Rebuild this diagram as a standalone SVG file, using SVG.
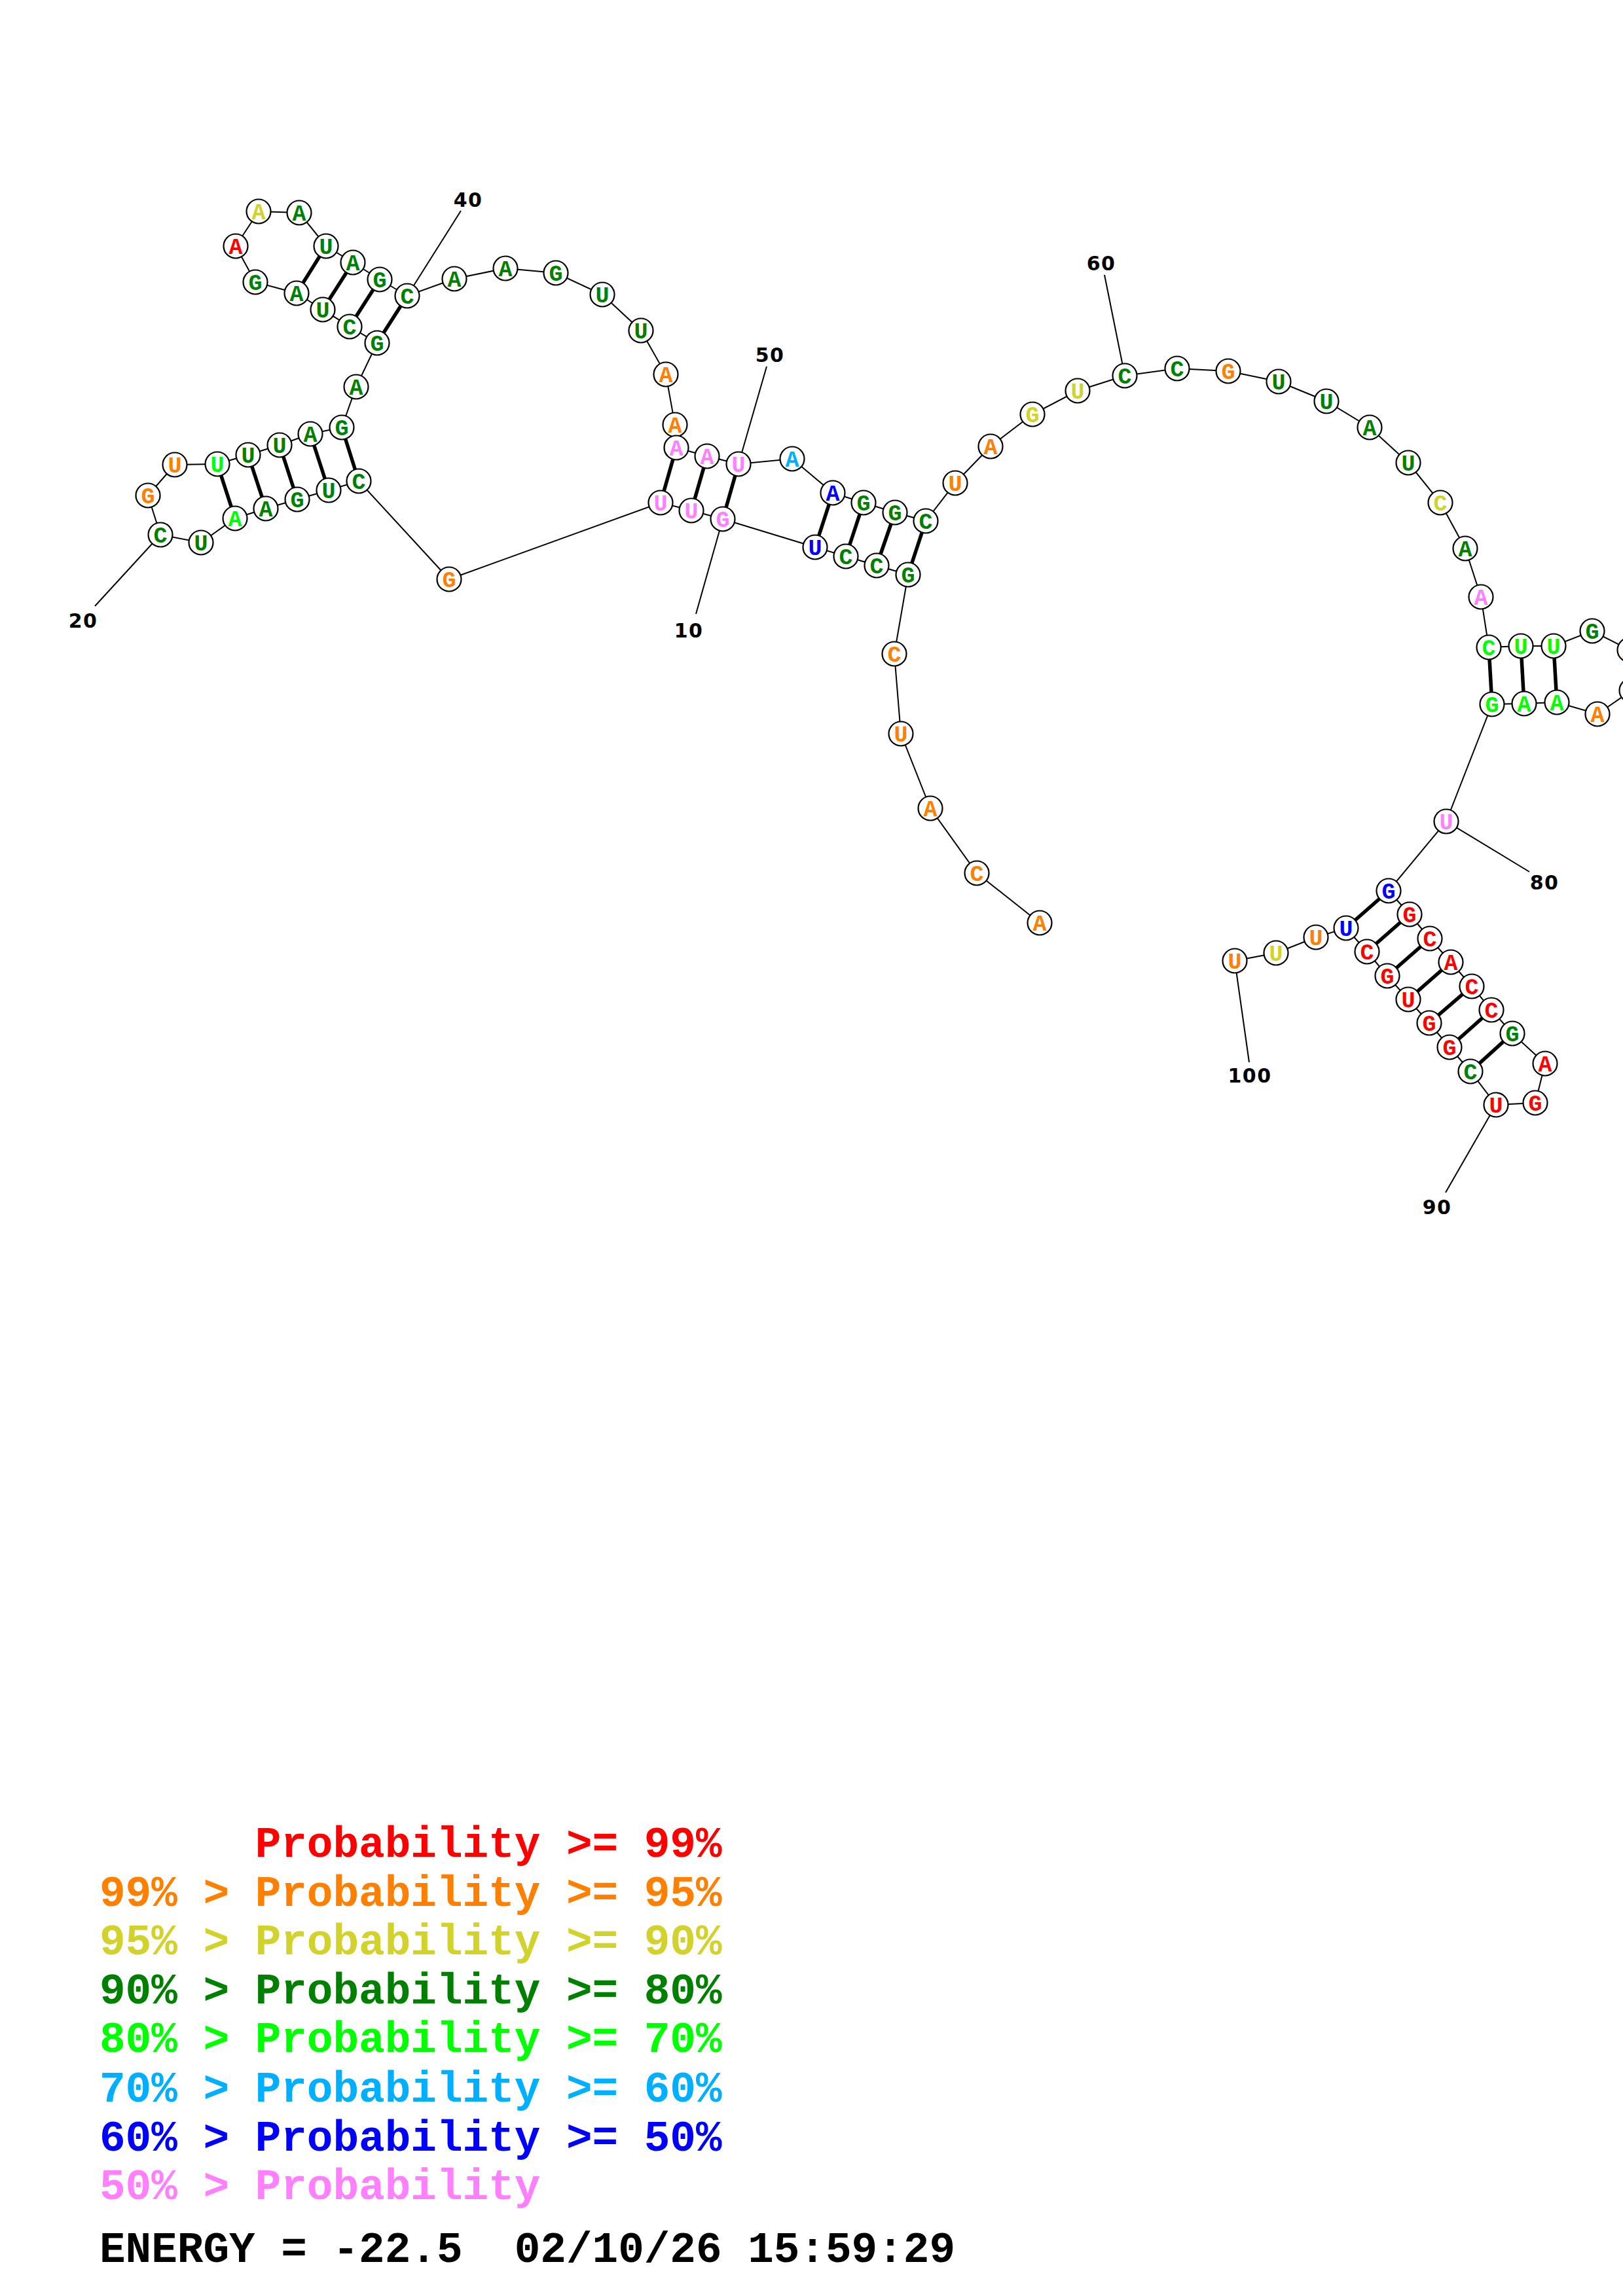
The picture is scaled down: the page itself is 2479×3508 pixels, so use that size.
<svg xmlns="http://www.w3.org/2000/svg" width="2479" height="3508" viewBox="0 0 2479 3508">
<style>
.bb{stroke:#000;stroke-width:2;fill:none}
.pr{stroke:#000;stroke-width:5.5;fill:none}
.ld{stroke:#000;stroke-width:2;fill:none}
circle{fill:#fff;stroke:#000;stroke-width:2.2}
.n text{font-family:"Liberation Mono","Courier New",monospace;font-weight:bold;font-size:35px;text-anchor:middle}
.lab{font-family:"DejaVu Sans","Liberation Sans",sans-serif;font-weight:bold;font-size:30px;text-anchor:middle;letter-spacing:1.5px;fill:#000}
.leg{font-family:"Liberation Mono","Courier New",monospace;font-weight:bold;font-size:66px;white-space:pre}
.r{fill:#FF0000}.o{fill:#FF8000}.y{fill:#D2D22D}.g{fill:#008000}.lg{fill:#00FF00}.lb{fill:#00AFFF}.b{fill:#0000FF}.p{fill:#FF80FF}.k{fill:#000}
</style>
<rect width="2479" height="3508" fill="#fff"/>
<g id="connectors">
<polyline class="bb" points="1588,1410 1492,1334 1421,1235 1376,1121 1366,999 1387,878 1339,864 1292,850 1245,836 1104,793 1056,780 1009,768 686,885 548,735 502,749 454,763 406,777 359,792 307,829 245,817 226,757 267,710 332,709 379,695 427,680 474,663 522,653 544,591 576,524 534,499 493,473 453,448 390,431 360,376 395,323 457,325 498,376 539,401 580,427 622,452 694,426 772,410 849,417 920,450 979,505 1017,572 1031,649 1033,684 1080,697 1128,709 1210,701 1272,753 1319,768 1367,783 1414,796 1459,738 1513,682 1577,633 1646,597 1718,574 1798,563 1876,567 1953,583 2026,613 2092,653 2151,707 2200,768 2238,838 2262,912 2274,989 2323,987 2373,987 2432,964 2489,993 2492,1055 2440,1091 2378,1073 2328,1075 2279,1076 2209,1255 2121,1361 2153,1397 2184,1434 2216,1470 2248,1507 2278,1543 2310,1579 2360,1625 2345,1685 2285,1688 2246,1637 2214,1600 2183,1563 2151,1527 2119,1491 2088,1454 2056,1418 2010,1432 1949,1456 1886,1468"/>
<g id="pairs">
<line class="pr" x1="1387" y1="878" x2="1414" y2="796"/>
<line class="pr" x1="1339" y1="864" x2="1367" y2="783"/>
<line class="pr" x1="1292" y1="850" x2="1319" y2="768"/>
<line class="pr" x1="1245" y1="836" x2="1272" y2="753"/>
<line class="pr" x1="1104" y1="793" x2="1128" y2="709"/>
<line class="pr" x1="1056" y1="780" x2="1080" y2="697"/>
<line class="pr" x1="1009" y1="768" x2="1033" y2="684"/>
<line class="pr" x1="548" y1="735" x2="522" y2="653"/>
<line class="pr" x1="502" y1="749" x2="474" y2="663"/>
<line class="pr" x1="454" y1="763" x2="427" y2="680"/>
<line class="pr" x1="406" y1="777" x2="379" y2="695"/>
<line class="pr" x1="359" y1="792" x2="332" y2="709"/>
<line class="pr" x1="576" y1="524" x2="622" y2="452"/>
<line class="pr" x1="534" y1="499" x2="580" y2="427"/>
<line class="pr" x1="493" y1="473" x2="539" y2="401"/>
<line class="pr" x1="453" y1="448" x2="498" y2="376"/>
<line class="pr" x1="2274" y1="989" x2="2279" y2="1076"/>
<line class="pr" x1="2323" y1="987" x2="2328" y2="1075"/>
<line class="pr" x1="2373" y1="987" x2="2378" y2="1073"/>
<line class="pr" x1="2121" y1="1361" x2="2056" y2="1418"/>
<line class="pr" x1="2153" y1="1397" x2="2088" y2="1454"/>
<line class="pr" x1="2184" y1="1434" x2="2119" y2="1491"/>
<line class="pr" x1="2216" y1="1470" x2="2151" y2="1527"/>
<line class="pr" x1="2248" y1="1507" x2="2183" y2="1563"/>
<line class="pr" x1="2278" y1="1543" x2="2214" y2="1600"/>
<line class="pr" x1="2310" y1="1579" x2="2246" y2="1637"/>
</g>
<g id="leaders">
<line class="ld" x1="1104" y1="793" x2="1063" y2="938"/>
<line class="ld" x1="245" y1="817" x2="145" y2="926"/>
<line class="ld" x1="622" y1="452" x2="704" y2="322"/>
<line class="ld" x1="1128" y1="709" x2="1171" y2="560"/>
<line class="ld" x1="1718" y1="574" x2="1687" y2="420"/>
<line class="ld" x1="2209" y1="1255" x2="2336" y2="1332"/>
<line class="ld" x1="2285" y1="1688" x2="2208" y2="1822"/>
<line class="ld" x1="1886" y1="1468" x2="1908" y2="1623"/>
</g>
</g>
<g class="n">
<g id="n1"><circle cx="1588" cy="1410" r="18.5"/><text x="1588" y="1421.5" class="o">A</text></g>
<g id="n2"><circle cx="1492" cy="1334" r="18.5"/><text x="1492" y="1345.5" class="o">C</text></g>
<g id="n3"><circle cx="1421" cy="1235" r="18.5"/><text x="1421" y="1246.5" class="o">A</text></g>
<g id="n4"><circle cx="1376" cy="1121" r="18.5"/><text x="1376" y="1132.5" class="o">U</text></g>
<g id="n5"><circle cx="1366" cy="999" r="18.5"/><text x="1366" y="1010.5" class="o">C</text></g>
<g id="n6"><circle cx="1387" cy="878" r="18.5"/><text x="1387" y="889.5" class="g">G</text></g>
<g id="n7"><circle cx="1339" cy="864" r="18.5"/><text x="1339" y="875.5" class="g">C</text></g>
<g id="n8"><circle cx="1292" cy="850" r="18.5"/><text x="1292" y="861.5" class="g">C</text></g>
<g id="n9"><circle cx="1245" cy="836" r="18.5"/><text x="1245" y="847.5" class="b">U</text></g>
<g id="n10"><circle cx="1104" cy="793" r="18.5"/><text x="1104" y="804.5" class="p">G</text></g>
<g id="n11"><circle cx="1056" cy="780" r="18.5"/><text x="1056" y="791.5" class="p">U</text></g>
<g id="n12"><circle cx="1009" cy="768" r="18.5"/><text x="1009" y="779.5" class="p">U</text></g>
<g id="n13"><circle cx="686" cy="885" r="18.5"/><text x="686" y="896.5" class="o">G</text></g>
<g id="n14"><circle cx="548" cy="735" r="18.5"/><text x="548" y="746.5" class="g">C</text></g>
<g id="n15"><circle cx="502" cy="749" r="18.5"/><text x="502" y="760.5" class="g">U</text></g>
<g id="n16"><circle cx="454" cy="763" r="18.5"/><text x="454" y="774.5" class="g">G</text></g>
<g id="n17"><circle cx="406" cy="777" r="18.5"/><text x="406" y="788.5" class="g">A</text></g>
<g id="n18"><circle cx="359" cy="792" r="18.5"/><text x="359" y="803.5" class="lg">A</text></g>
<g id="n19"><circle cx="307" cy="829" r="18.5"/><text x="307" y="840.5" class="g">U</text></g>
<g id="n20"><circle cx="245" cy="817" r="18.5"/><text x="245" y="828.5" class="g">C</text></g>
<g id="n21"><circle cx="226" cy="757" r="18.5"/><text x="226" y="768.5" class="o">G</text></g>
<g id="n22"><circle cx="267" cy="710" r="18.5"/><text x="267" y="721.5" class="o">U</text></g>
<g id="n23"><circle cx="332" cy="709" r="18.5"/><text x="332" y="720.5" class="lg">U</text></g>
<g id="n24"><circle cx="379" cy="695" r="18.5"/><text x="379" y="706.5" class="g">U</text></g>
<g id="n25"><circle cx="427" cy="680" r="18.5"/><text x="427" y="691.5" class="g">U</text></g>
<g id="n26"><circle cx="474" cy="663" r="18.5"/><text x="474" y="674.5" class="g">A</text></g>
<g id="n27"><circle cx="522" cy="653" r="18.5"/><text x="522" y="664.5" class="g">G</text></g>
<g id="n28"><circle cx="544" cy="591" r="18.5"/><text x="544" y="602.5" class="g">A</text></g>
<g id="n29"><circle cx="576" cy="524" r="18.5"/><text x="576" y="535.5" class="g">G</text></g>
<g id="n30"><circle cx="534" cy="499" r="18.5"/><text x="534" y="510.5" class="g">C</text></g>
<g id="n31"><circle cx="493" cy="473" r="18.5"/><text x="493" y="484.5" class="g">U</text></g>
<g id="n32"><circle cx="453" cy="448" r="18.5"/><text x="453" y="459.5" class="g">A</text></g>
<g id="n33"><circle cx="390" cy="431" r="18.5"/><text x="390" y="442.5" class="g">G</text></g>
<g id="n34"><circle cx="360" cy="376" r="18.5"/><text x="360" y="387.5" class="r">A</text></g>
<g id="n35"><circle cx="395" cy="323" r="18.5"/><text x="395" y="334.5" class="y">A</text></g>
<g id="n36"><circle cx="457" cy="325" r="18.5"/><text x="457" y="336.5" class="g">A</text></g>
<g id="n37"><circle cx="498" cy="376" r="18.5"/><text x="498" y="387.5" class="g">U</text></g>
<g id="n38"><circle cx="539" cy="401" r="18.5"/><text x="539" y="412.5" class="g">A</text></g>
<g id="n39"><circle cx="580" cy="427" r="18.5"/><text x="580" y="438.5" class="g">G</text></g>
<g id="n40"><circle cx="622" cy="452" r="18.5"/><text x="622" y="463.5" class="g">C</text></g>
<g id="n41"><circle cx="694" cy="426" r="18.5"/><text x="694" y="437.5" class="g">A</text></g>
<g id="n42"><circle cx="772" cy="410" r="18.5"/><text x="772" y="421.5" class="g">A</text></g>
<g id="n43"><circle cx="849" cy="417" r="18.5"/><text x="849" y="428.5" class="g">G</text></g>
<g id="n44"><circle cx="920" cy="450" r="18.5"/><text x="920" y="461.5" class="g">U</text></g>
<g id="n45"><circle cx="979" cy="505" r="18.5"/><text x="979" y="516.5" class="g">U</text></g>
<g id="n46"><circle cx="1017" cy="572" r="18.5"/><text x="1017" y="583.5" class="o">A</text></g>
<g id="n47"><circle cx="1031" cy="649" r="18.5"/><text x="1031" y="660.5" class="o">A</text></g>
<g id="n48"><circle cx="1033" cy="684" r="18.5"/><text x="1033" y="695.5" class="p">A</text></g>
<g id="n49"><circle cx="1080" cy="697" r="18.5"/><text x="1080" y="708.5" class="p">A</text></g>
<g id="n50"><circle cx="1128" cy="709" r="18.5"/><text x="1128" y="720.5" class="p">U</text></g>
<g id="n51"><circle cx="1210" cy="701" r="18.5"/><text x="1210" y="712.5" class="lb">A</text></g>
<g id="n52"><circle cx="1272" cy="753" r="18.5"/><text x="1272" y="764.5" class="b">A</text></g>
<g id="n53"><circle cx="1319" cy="768" r="18.5"/><text x="1319" y="779.5" class="g">G</text></g>
<g id="n54"><circle cx="1367" cy="783" r="18.5"/><text x="1367" y="794.5" class="g">G</text></g>
<g id="n55"><circle cx="1414" cy="796" r="18.5"/><text x="1414" y="807.5" class="g">C</text></g>
<g id="n56"><circle cx="1459" cy="738" r="18.5"/><text x="1459" y="749.5" class="o">U</text></g>
<g id="n57"><circle cx="1513" cy="682" r="18.5"/><text x="1513" y="693.5" class="o">A</text></g>
<g id="n58"><circle cx="1577" cy="633" r="18.5"/><text x="1577" y="644.5" class="y">G</text></g>
<g id="n59"><circle cx="1646" cy="597" r="18.5"/><text x="1646" y="608.5" class="y">U</text></g>
<g id="n60"><circle cx="1718" cy="574" r="18.5"/><text x="1718" y="585.5" class="g">C</text></g>
<g id="n61"><circle cx="1798" cy="563" r="18.5"/><text x="1798" y="574.5" class="g">C</text></g>
<g id="n62"><circle cx="1876" cy="567" r="18.5"/><text x="1876" y="578.5" class="o">G</text></g>
<g id="n63"><circle cx="1953" cy="583" r="18.5"/><text x="1953" y="594.5" class="g">U</text></g>
<g id="n64"><circle cx="2026" cy="613" r="18.5"/><text x="2026" y="624.5" class="g">U</text></g>
<g id="n65"><circle cx="2092" cy="653" r="18.5"/><text x="2092" y="664.5" class="g">A</text></g>
<g id="n66"><circle cx="2151" cy="707" r="18.5"/><text x="2151" y="718.5" class="g">U</text></g>
<g id="n67"><circle cx="2200" cy="768" r="18.5"/><text x="2200" y="779.5" class="y">C</text></g>
<g id="n68"><circle cx="2238" cy="838" r="18.5"/><text x="2238" y="849.5" class="g">A</text></g>
<g id="n69"><circle cx="2262" cy="912" r="18.5"/><text x="2262" y="923.5" class="p">A</text></g>
<g id="n70"><circle cx="2274" cy="989" r="18.5"/><text x="2274" y="1000.5" class="lg">C</text></g>
<g id="n71"><circle cx="2323" cy="987" r="18.5"/><text x="2323" y="998.5" class="lg">U</text></g>
<g id="n72"><circle cx="2373" cy="987" r="18.5"/><text x="2373" y="998.5" class="lg">U</text></g>
<g id="n73"><circle cx="2432" cy="964" r="18.5"/><text x="2432" y="975.5" class="g">G</text></g>
<g id="n74"><circle cx="2489" cy="993" r="18.5"/><text x="2489" y="1004.5" class="o">A</text></g>
<g id="n75"><circle cx="2492" cy="1055" r="18.5"/><text x="2492" y="1066.5" class="g">A</text></g>
<g id="n76"><circle cx="2440" cy="1091" r="18.5"/><text x="2440" y="1102.5" class="o">A</text></g>
<g id="n77"><circle cx="2378" cy="1073" r="18.5"/><text x="2378" y="1084.5" class="lg">A</text></g>
<g id="n78"><circle cx="2328" cy="1075" r="18.5"/><text x="2328" y="1086.5" class="lg">A</text></g>
<g id="n79"><circle cx="2279" cy="1076" r="18.5"/><text x="2279" y="1087.5" class="lg">G</text></g>
<g id="n80"><circle cx="2209" cy="1255" r="18.5"/><text x="2209" y="1266.5" class="p">U</text></g>
<g id="n81"><circle cx="2121" cy="1361" r="18.5"/><text x="2121" y="1372.5" class="b">G</text></g>
<g id="n82"><circle cx="2153" cy="1397" r="18.5"/><text x="2153" y="1408.5" class="r">G</text></g>
<g id="n83"><circle cx="2184" cy="1434" r="18.5"/><text x="2184" y="1445.5" class="r">C</text></g>
<g id="n84"><circle cx="2216" cy="1470" r="18.5"/><text x="2216" y="1481.5" class="r">A</text></g>
<g id="n85"><circle cx="2248" cy="1507" r="18.5"/><text x="2248" y="1518.5" class="r">C</text></g>
<g id="n86"><circle cx="2278" cy="1543" r="18.5"/><text x="2278" y="1554.5" class="r">C</text></g>
<g id="n87"><circle cx="2310" cy="1579" r="18.5"/><text x="2310" y="1590.5" class="g">G</text></g>
<g id="n88"><circle cx="2360" cy="1625" r="18.5"/><text x="2360" y="1636.5" class="r">A</text></g>
<g id="n89"><circle cx="2345" cy="1685" r="18.5"/><text x="2345" y="1696.5" class="r">G</text></g>
<g id="n90"><circle cx="2285" cy="1688" r="18.5"/><text x="2285" y="1699.5" class="r">U</text></g>
<g id="n91"><circle cx="2246" cy="1637" r="18.5"/><text x="2246" y="1648.5" class="g">C</text></g>
<g id="n92"><circle cx="2214" cy="1600" r="18.5"/><text x="2214" y="1611.5" class="r">G</text></g>
<g id="n93"><circle cx="2183" cy="1563" r="18.5"/><text x="2183" y="1574.5" class="r">G</text></g>
<g id="n94"><circle cx="2151" cy="1527" r="18.5"/><text x="2151" y="1538.5" class="r">U</text></g>
<g id="n95"><circle cx="2119" cy="1491" r="18.5"/><text x="2119" y="1502.5" class="r">G</text></g>
<g id="n96"><circle cx="2088" cy="1454" r="18.5"/><text x="2088" y="1465.5" class="r">C</text></g>
<g id="n97"><circle cx="2056" cy="1418" r="18.5"/><text x="2056" y="1429.5" class="b">U</text></g>
<g id="n98"><circle cx="2010" cy="1432" r="18.5"/><text x="2010" y="1443.5" class="o">U</text></g>
<g id="n99"><circle cx="1949" cy="1456" r="18.5"/><text x="1949" y="1467.5" class="y">U</text></g>
<g id="n100"><circle cx="1886" cy="1468" r="18.5"/><text x="1886" y="1479.5" class="o">U</text></g>
</g>
<g id="labels">
<text class="lab" x="1052" y="974">10</text>
<text class="lab" x="127" y="959">20</text>
<text class="lab" x="715" y="316">40</text>
<text class="lab" x="1176" y="553">50</text>
<text class="lab" x="1682" y="413">60</text>
<text class="lab" x="2359" y="1359">80</text>
<text class="lab" x="2195" y="1855">90</text>
<text class="lab" x="1909" y="1654">100</text>
</g>
<g id="legend">
<text class="leg r" x="152" y="2837" xml:space="preserve">      Probability &gt;= 99%</text>
<text class="leg o" x="152" y="2912">99% &gt; Probability &gt;= 95%</text>
<text class="leg y" x="152" y="2986">95% &gt; Probability &gt;= 90%</text>
<text class="leg g" x="152" y="3061">90% &gt; Probability &gt;= 80%</text>
<text class="leg lg" x="152" y="3135">80% &gt; Probability &gt;= 70%</text>
<text class="leg lb" x="152" y="3211">70% &gt; Probability &gt;= 60%</text>
<text class="leg b" x="152" y="3286">60% &gt; Probability &gt;= 50%</text>
<text class="leg p" x="152" y="3360">50% &gt; Probability</text>
<text class="leg k" x="152" y="3456" xml:space="preserve">ENERGY = -22.5  02/10/26 15:59:29</text>
</g>
</svg>
